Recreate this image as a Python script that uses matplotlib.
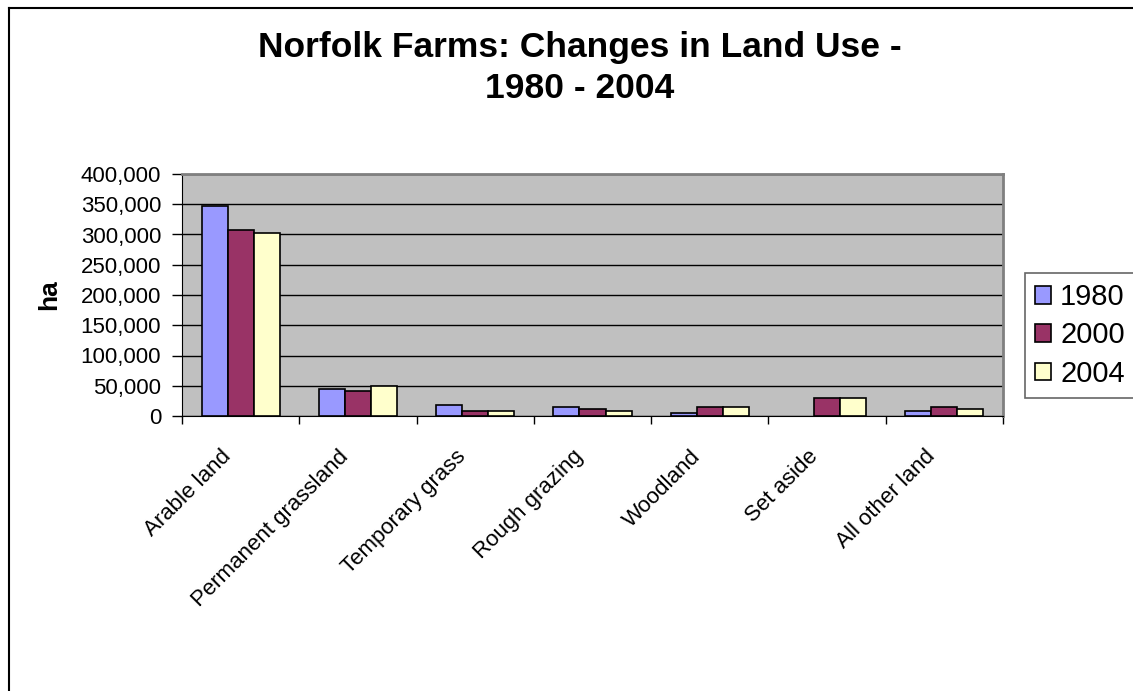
import numpy as np
import matplotlib.pyplot as plt
from matplotlib.lines import Line2D
from matplotlib.ticker import FuncFormatter

plt.rcParams['font.family'] = ['Liberation Sans', 'DejaVu Sans']

### Data (hectares) ###
categories = ["Arable land", "Permanent grassland", "Temporary grass",
              "Rough grazing", "Woodland", "Set aside", "All other land"]
years = ["1980", "2000", "2004"]
ha_1980 = [347000, 44000, 17500, 14500, 5500, 0, 8800]
ha_2000 = [307000, 41000, 8000, 11000, 14500, 29500, 14500]
ha_2004 = [302500, 50000, 8800, 8300, 14500, 29500, 11000]
colors = ["#9999FF", "#993366", "#FFFFCC"]

W, H = 1133, 691
fig = plt.figure(figsize=(W / 100, H / 100), dpi=100)

# outer chart frame (left and top edges only show)
fig.add_artist(Line2D([8.5 / W, 8.5 / W], [0, 1 - 7.5 / H], color="black", lw=1.5,
                      transform=fig.transFigure))
fig.add_artist(Line2D([8.5 / W, 1], [1 - 7.5 / H, 1 - 7.5 / H], color="black", lw=1.5,
                      transform=fig.transFigure))

ax = fig.add_axes([182 / W, 1 - 416 / H, (1003 - 182) / W, (416 - 174) / H])
ax.set_facecolor("#C0C0C0")

x = np.arange(len(categories))
bw = 1 / 4.5
series = [ha_1980, ha_2000, ha_2004]
for i, (vals, c, lab) in enumerate(zip(series, colors, years)):
    lws = [1.2 if v > 0 else 0 for v in vals]
    ax.bar(x + (i - 1) * bw, vals, width=bw, color=c, edgecolor="black",
           linewidth=lws, label=lab, zorder=3)

ax.set_xlim(-0.5, len(categories) - 0.5)
ax.set_ylim(0, 400000)
ax.set_yticks(np.arange(0, 400001, 50000))
ax.yaxis.set_major_formatter(FuncFormatter(lambda v, p: f"{int(v):,}"))
ax.grid(axis="y", color="black", lw=1, zorder=1)
ax.set_axisbelow(True)

# category ticks sit between the groups
ax.set_xticks(np.arange(-0.5, len(categories), 1))
ax.set_xticklabels([])
ax.tick_params(axis="x", direction="out", length=6, width=1, color="black")
ax.tick_params(axis="y", direction="out", length=7, width=1, color="black",
               labelsize=16, pad=8)
for i, name in enumerate(categories):
    ax.text(i - 0.17, -50000, name, rotation=45, ha="right", va="top",
            rotation_mode="anchor", fontsize=16)

for side in ["top", "right"]:
    ax.spines[side].set_color("#808080")
    ax.spines[side].set_linewidth(2)
ax.spines["left"].set_color("black")
ax.spines["bottom"].set_color("black")

ax.set_ylabel("ha", fontsize=19, fontweight="bold", labelpad=14)

fig.text(0.512, 1 - 68 / H, "Norfolk Farms: Changes in Land Use -\n1980 - 2004",
         ha="center", va="center", fontsize=25.5, fontweight="bold", linespacing=1.28)

leg = ax.legend(loc="upper left", bbox_to_anchor=(1025 / W, 1 - 273 / H),
                bbox_transform=fig.transFigure, fontsize=21, frameon=True,
                fancybox=False, borderaxespad=0, handlelength=0.55, handleheight=0.55,
                handletextpad=0.3, labelspacing=0.35, borderpad=0.35)
leg.get_frame().set_edgecolor("#404040")
leg.get_frame().set_linewidth(1.2)

fig.savefig("out.png", dpi=100)
